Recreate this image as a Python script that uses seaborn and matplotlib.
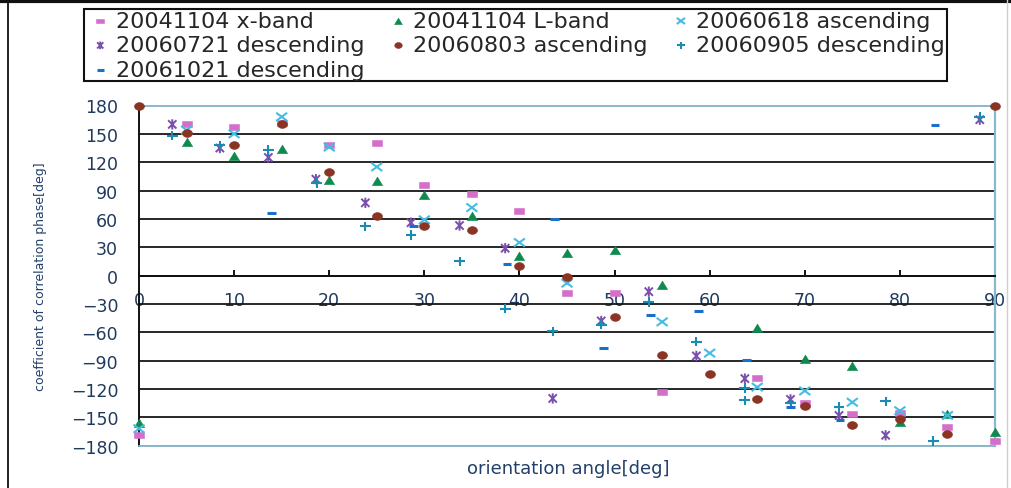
import matplotlib
matplotlib.use("Agg")
import matplotlib.pyplot as plt
from matplotlib.path import Path
from matplotlib.markers import MarkerStyle
from matplotlib.lines import Line2D
from matplotlib.transforms import Affine2D
import pandas as pd
import seaborn as sns

# ---- data: orientation angle [deg] vs. correlation phase [deg] ----
xband_x = [0, 5, 10, 15, 20, 25, 30, 35, 40, 45, 50, 55, 65, 70, 75, 80, 85, 90]
xband_y = [-169, 160, 157, 161, 138, 140, 96, 86, 68, -18, -18, -123, -108, -135, -146, -145, -160, -175]

lband_x = [0, 5, 10, 15, 20, 25, 30, 35, 40, 45, 50, 55, 65, 70, 75, 80, 85, 90]
lband_y = [-156, 141, 127, 134, 101, 100, 85, 63, 21, 24, 27, -10, -55, -88, -96, -155, -146, -165]

asc0618_x = [0, 5, 10, 15, 20, 25, 30, 35, 40, 45, 55, 60, 65, 70, 75, 80, 85]
asc0618_y = [-162, 154, 150, 168, 136, 115, 59, 72, 35, -8, -49, -82, -118, -122, -134, -143, -148]

desc0721_x = [3.5, 8.5, 13.6, 18.6, 23.8, 28.6, 33.7, 38.5, 43.5, 48.6, 53.6, 58.6, 63.7, 68.5, 73.6, 78.5, 88.4]
desc0721_y = [160, 135, 125, 102, 77, 56, 53, 29, -130, -48, -17, -85, -109, -131, -148, -169, 165]

asc0803_x = [0, 5, 10, 15, 20, 25, 30, 35, 40, 45, 50, 55, 60, 65, 70, 75, 80, 85, 90]
asc0803_y = [179, 151, 138, 160, 110, 63, 53, 48, 10, -2, -44, -84, -104, -131, -138, -158, -152, -168, 179]

desc0905_x = [3.5, 8.5, 13.6, 18.7, 23.8, 28.6, 33.7, 38.5, 43.5, 48.6, 53.6, 58.6, 63.7, 63.7, 68.5, 73.6, 78.5, 83.5, 88.4]
desc0905_y = [148, 138, 133, 98, 52, 43, 15, -35, -59, -52, -28, -70, -119, -132, -135, -139, -133, -175, 168]

desc1021_x = [13.9, 28.9, 38.7, 43.7, 48.8, 53.8, 58.8, 63.9, 68.5, 73.7, 83.7]
desc1021_y = [66, 53, 12, 60, -77, -42, -37, -89, -139, -153, 159]

series_labels = ["20041104 x-band", "20041104 L-band", "20060618 ascending",
                 "20060721 descending", "20060803 ascending", "20060905 descending",
                 "20061021 descending"]
x_ticks = list(range(0, 91, 10))
y_ticks = list(range(-180, 181, 30))

# ---- marker shapes ----
def closed(verts):
    return Path(verts + [verts[0]], [Path.MOVETO] + [Path.LINETO] * (len(verts) - 1) + [Path.CLOSEPOLY])

def segments(segs):
    verts, codes = [], []
    for a, b in segs:
        verts += [a, b]
        codes += [Path.MOVETO, Path.LINETO]
    return Path(verts, codes)

rect_path = closed([(-1, -0.65), (1, -0.65), (1, 0.65), (-1, 0.65)])
ellipse_path = Path.unit_circle().transformed(Affine2D().scale(1.0, 0.78))
tri_path = closed([(-1, -0.8), (1, -0.8), (0, 0.85)])
x_path = segments([((-1, -0.75), (1, 0.75)), ((-1, 0.75), (1, -0.75))])
star_path = segments([((-0.8, -0.8), (0.8, 0.8)), ((-0.8, 0.8), (0.8, -0.8)), ((0, -1), (0, 1))])
plus_path = segments([((-1, 0), (1, 0)), ((0, -0.85), (0, 0.85))])
dash_path = segments([((-1, 0), (1, 0))])

styles = [
    dict(marker=MarkerStyle(rect_path), color="#d46ecb", s=50, lw=0.4),
    dict(marker=MarkerStyle(tri_path), color="#0f8a4e", s=55, lw=0.4),
    dict(marker=MarkerStyle(x_path, fillstyle="none"), color="#45bde2", s=62, lw=1.5),
    dict(marker=MarkerStyle(star_path, fillstyle="none"), color="#7a4fae", s=55, lw=1.4),
    dict(marker=MarkerStyle(ellipse_path), color="#8b3424", s=52, lw=0.4),
    dict(marker=MarkerStyle(plus_path, fillstyle="none"), color="#1a8cb4", s=62, lw=1.5),
    dict(marker=MarkerStyle(dash_path, fillstyle="none"), color="#1b6fcc", s=40, lw=2.2),
]

xs = [xband_x, lband_x, asc0618_x, desc0721_x, asc0803_x, desc0905_x, desc1021_x]
ys = [xband_y, lband_y, asc0618_y, desc0721_y, asc0803_y, desc0905_y, desc1021_y]

sns.set_theme(style="white")
plt.rcParams["font.family"] = ["DejaVu Sans"]

fig = plt.figure(figsize=(10.12, 4.89), dpi=100)
ax = fig.add_axes([139 / 1012, 1 - 446.7 / 489, 856 / 1012, 340.2 / 489])

for label, x, y, st in zip(series_labels, xs, ys, styles):
    df = pd.DataFrame({"angle": x, "phase": y})
    sns.scatterplot(data=df, x="angle", y="phase", ax=ax, label=label,
                    marker=st["marker"], color=st["color"], edgecolor=st["color"],
                    s=st["s"], linewidth=st["lw"], zorder=3, clip_on=False)

ax.set_xlim(0, 90)
ax.set_ylim(-180, 180)
ax.set_xticks(x_ticks)
ax.set_yticks(y_ticks)

# horizontal grid and frame
ax.yaxis.grid(True, color="#161616", linewidth=1.3)
ax.xaxis.grid(False)
frame_blue = "#8ab8cc"
ax.spines["top"].set_color(frame_blue)
ax.spines["right"].set_color(frame_blue)
ax.spines["top"].set_linewidth(1.4)
ax.spines["right"].set_linewidth(1.6)
ax.spines["left"].set_color("#111111")
ax.spines["left"].set_linewidth(1.4)
ax.spines["bottom"].set_position(("data", 0))
ax.spines["bottom"].set_color("#111111")
ax.spines["bottom"].set_linewidth(1.4)
ax.axhline(-180, color=frame_blue, linewidth=1.4, zorder=2.6, clip_on=False)

tick_color = "#1f3a5c"
ax.tick_params(axis="y", length=0, pad=15, labelsize=12.5, labelcolor=tick_color)
ax.tick_params(axis="x", direction="in", length=4, width=1.4, color="#111111",
               pad=11, labelsize=12.5, labelcolor=tick_color, bottom=True)

ax.set_xlabel("orientation angle[deg]", fontsize=13, color="#22406a")
ax.set_ylabel("coefficient of correlation phase[deg]", fontsize=9, color="#22406a")
ax.xaxis.set_label_coords(0.502, -0.04)
ax.yaxis.set_label_coords(-0.108, 0.5)

# legend laid out row-wise in three columns
handles, labels = ax.get_legend_handles_labels()
order = [0, 3, 6, 1, 4, 2, 5]
leg = ax.legend([handles[i] for i in order], [labels[i] for i in order], ncol=3,
                loc="upper left", bbox_to_anchor=(84 / 1012, 1 - 10 / 489, 863 / 1012, 0),
                bbox_transform=fig.transFigure, mode="expand", frameon=True,
                fancybox=False, edgecolor="#111111", facecolor="white", framealpha=1,
                fontsize=16, handlelength=1.3, handletextpad=0.05, labelspacing=0.2,
                borderpad=0.08, borderaxespad=0, scatterpoints=1, markerscale=0.75)
leg.get_frame().set_linewidth(1.5)

# outer border
fig.add_artist(Line2D([0, 1], [1 - 1.5 / 489, 1 - 1.5 / 489], transform=fig.transFigure,
                      color="#111111", linewidth=3))
fig.add_artist(Line2D([8 / 1012, 8 / 1012], [0, 1], transform=fig.transFigure,
                      color="#111111", linewidth=1.3))
fig.add_artist(Line2D([1007 / 1012, 1007 / 1012], [0, 1], transform=fig.transFigure,
                      color="#cfcfcf", linewidth=1.0))

fig.savefig("out.png", dpi=100)
